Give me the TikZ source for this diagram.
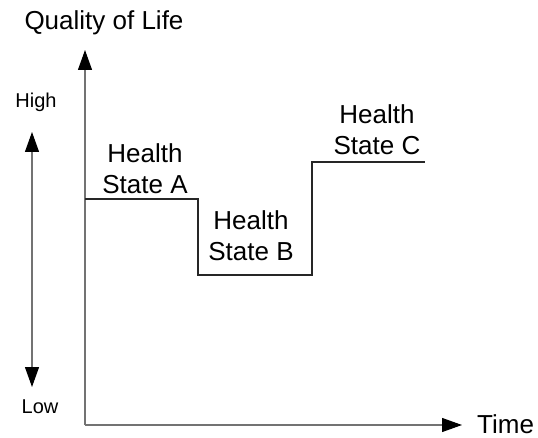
\documentclass[tikz,border=0pt]{standalone}
\usepackage{fontspec}
\setmainfont{Liberation Sans}
\usetikzlibrary{arrows.meta}

\begin{document}
\begin{tikzpicture}[x=1pt,y=-1pt,
    axis/.style={draw=gray!90!black, line width=1.1pt,
        -{Triangle[width=14pt,length=20pt,color=black]}},
    curve/.style={draw=black!85, line width=1.1pt},
    biglbl/.style={font=\fontsize{26}{31}\selectfont, inner sep=0pt},
    smalllbl/.style={font=\fontsize{20}{24}\selectfont, inner sep=0pt},
    statelbl/.style={biglbl, align=center}]
\useasboundingbox (0,0) rectangle (538,438);
% axes
\coordinate (origin) at (85,425);
\coordinate (ytop) at (85,50);
\coordinate (xend) at (462,425);
\draw[axis] (origin) -- (ytop);
\draw[axis] (origin) -- (xend);
\node[biglbl, anchor=base] (qol) at (104,30) {Quality of Life};
\node[biglbl, anchor=base west] (time) at (477,433) {Time};
% high / low scale
\coordinate (hightip) at (32,132);
\coordinate (lowtip) at (32,387);
\draw[axis, {Triangle[width=14pt,length=20pt,color=black]}-{Triangle[width=14pt,length=20pt,color=black]}] (lowtip) -- (hightip);
\node[smalllbl, anchor=base] (high) at (36,108) {High};
\node[smalllbl, anchor=base] (low) at (40,413) {Low};
% health states
\draw[curve] (85,199) -- (198,199) -- (198,275) -- (312,275) -- (312,162) -- (425,162);
\node[statelbl] (stateA) at (145,169) {Health\\State A};
\node[statelbl] (stateB) at (251,236) {Health\\State B};
\node[statelbl] (stateC) at (377,130) {Health\\State C};
\end{tikzpicture}
\end{document}
